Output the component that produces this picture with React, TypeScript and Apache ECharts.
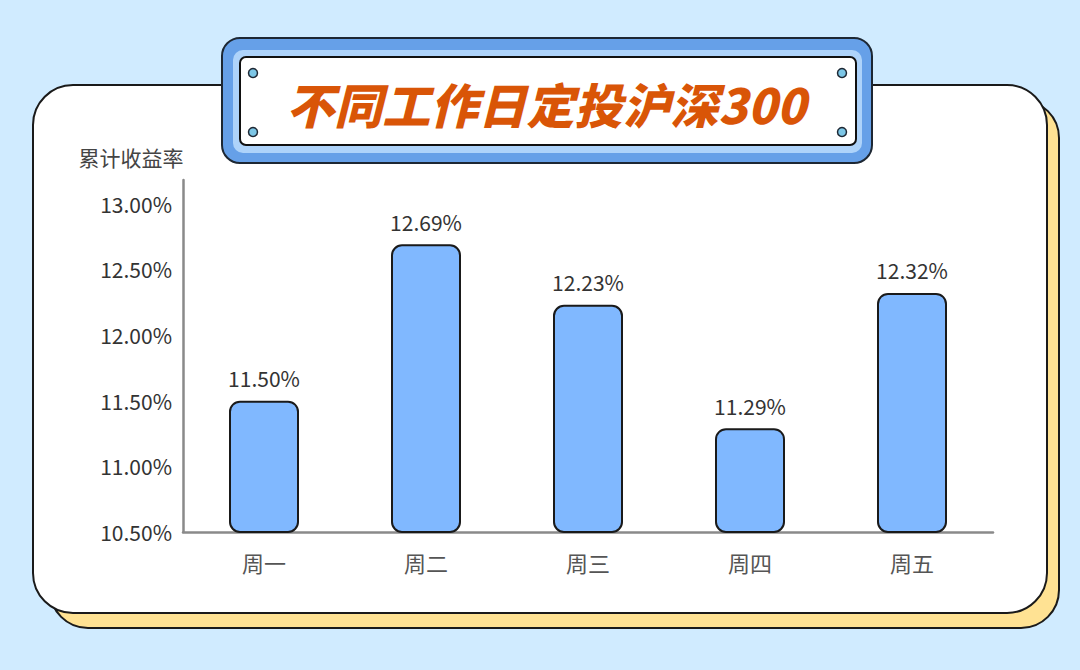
import React, { useEffect, useRef } from "react";
import * as echarts from "echarts";

const categories = ["周一", "周二", "周三", "周四", "周五"];
const values = [11.5, 12.69, 12.23, 11.29, 12.32];
const yTicks = [10.5, 11.0, 11.5, 12.0, 12.5, 13.0];
const titleText = "不同工作日定投沪深300";
const axisTitle = "累计收益率";

const FONT = '"Noto Sans CJK SC", "Noto Sans", sans-serif';

export default function App() {
  const ref = useRef<HTMLDivElement>(null);
  useEffect(() => {
    if (!ref.current) return;
    const chart = echarts.init(ref.current, null, { renderer: "svg" });
    const circles = [
      [253, 73],
      [253, 132],
      [842, 73],
      [842, 132],
    ].map(([cx, cy]) => ({
      type: "circle",
      z: 12,
      shape: { cx, cy, r: 4.5 },
      style: { fill: "#7cc6e6", stroke: "#1d2733", lineWidth: 1.5 },
    }));
    chart.setOption({
      animation: false,
      backgroundColor: "#d0ebff",
      textStyle: { fontFamily: FONT },
      graphic: [
        {
          type: "rect",
          z: -20,
          shape: { x: 50, y: 100, width: 1009, height: 528, r: 38 },
          style: { fill: "#ffe293", stroke: "#1a1a1a", lineWidth: 2 },
        },
        {
          type: "rect",
          z: -10,
          shape: { x: 33, y: 85, width: 1014, height: 528, r: 40 },
          style: { fill: "#ffffff", stroke: "#1a1a1a", lineWidth: 2 },
        },
        {
          type: "rect",
          z: 10,
          shape: { x: 222, y: 38, width: 650, height: 125, r: 18 },
          style: { fill: "#66a0e8", stroke: "#1d2733", lineWidth: 2 },
        },
        {
          type: "rect",
          z: 11,
          shape: { x: 233, y: 50, width: 629, height: 103, r: 10 },
          style: { fill: "#aed3fa" },
        },
        {
          type: "rect",
          z: 11,
          shape: { x: 240, y: 57, width: 616, height: 88, r: 6 },
          style: { fill: "#ffffff", stroke: "#111111", lineWidth: 2 },
        },
        ...circles,
        {
          type: "text",
          z: 13,
          x: 546,
          y: 103,
          style: {
            text: titleText,
            fill: "#d95507",
            font: `italic 900 48px ${FONT}`,
            align: "center",
            verticalAlign: "middle",
          },
        },
        {
          type: "text",
          z: 5,
          x: 131,
          y: 157,
          style: {
            text: axisTitle,
            fill: "#444444",
            font: `400 21px ${FONT}`,
            align: "center",
            verticalAlign: "middle",
          },
        },
      ],
      grid: { left: 183, right: 87, top: 180, bottom: 138, containLabel: false },
      xAxis: {
        type: "category",
        data: categories,
        axisLine: { lineStyle: { color: "#8a8a8a", width: 2.5 } },
        axisTick: { show: false },
        axisLabel: { color: "#555555", fontSize: 22, margin: 19, fontFamily: FONT },
      },
      yAxis: {
        type: "value",
        min: 10.5,
        max: 13.18,
        interval: 0.5,
        splitLine: { show: false },
        axisTick: { show: false },
        axisLine: { show: true, lineStyle: { color: "#8a8a8a", width: 2.5 } },
        axisLabel: {
          color: "#333333",
          fontSize: 21,
          margin: 11,
          fontFamily: FONT,
          formatter: (v: number) =>
            yTicks.some((t) => Math.abs(t - v) < 1e-6) ? v.toFixed(2) + "%" : "",
        },
      },
      series: [
        {
          type: "bar",
          data: values,
          barWidth: 70,
          itemStyle: {
            color: "#80b8ff",
            borderColor: "#1a1a1a",
            borderWidth: 2,
            borderRadius: 10,
          },
          label: {
            show: true,
            position: "top",
            distance: 12,
            color: "#333333",
            fontSize: 21,
            fontFamily: FONT,
            formatter: (p: any) => Number(p.value).toFixed(2) + "%",
          },
        },
      ],
    });
    return () => chart.dispose();
  }, []);
  return (
    <div
      ref={ref}
      style={{ position: "fixed", left: 0, top: 0, width: 1080, height: 670 }}
    />
  );
}
